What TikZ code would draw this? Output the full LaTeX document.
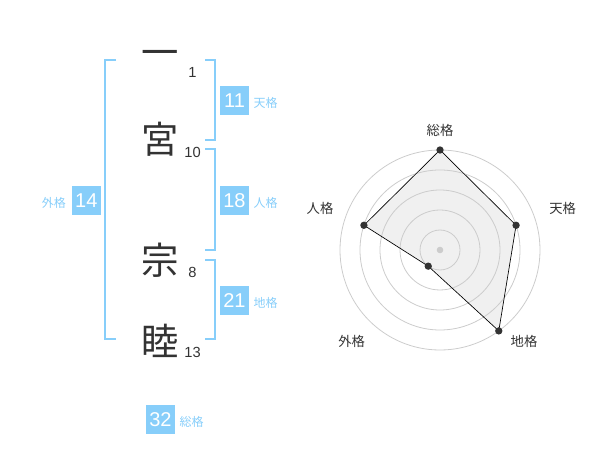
\documentclass[tikz,border=0pt]{standalone}
\usepackage{fontspec}
\setmainfont{Liberation Sans}
\newfontfamily\jpfont{Noto Sans CJK JP}
\usetikzlibrary{positioning}
\definecolor{kakublue}{HTML}{87CEFA}
\definecolor{inkgray}{HTML}{333333}
\definecolor{ringgray}{HTML}{CCCCCC}
\definecolor{areagray}{HTML}{F0F0F0}
\begin{document}
\begin{tikzpicture}[x=0.75pt,y=-0.75pt,
  kanji/.style={font=\jpfont\fontsize{28}{28}\selectfont,text=inkgray,inner sep=0pt},
  strokes/.style={font=\fontsize{11}{11}\selectfont,text=inkgray,inner sep=0pt},
  kakubox/.style={fill=kakublue,text=white,minimum size=21.75pt,inner sep=0pt,font=\fontsize{15}{15}\selectfont},
  kakuname/.style={font=\jpfont\fontsize{9}{9}\selectfont,text=kakublue,inner sep=0pt,yshift=-2.2pt},
  bracket/.style={draw=kakublue,line width=1.5pt},
  ring/.style={draw=ringgray,line width=0.6pt},
  axisname/.style={font=\jpfont\fontsize{10}{10}\selectfont,text=inkgray,inner sep=0pt},
  vertex/.style={circle,fill=inkgray,inner sep=0pt,minimum size=5.5pt}]

    \useasboundingbox (0,0) rectangle (600,470);

    \node[kanji](k1) at (160,58){一};
    \node[kanji](k2) at (160,139){宮};
    \node[kanji](k3) at (160,260){宗};
    \node[kanji](k4) at (160,341){睦};

    \node[strokes](n1) at (192.5,72.7){1};
    \node[strokes](n2) at (192.5,152.7){10};
    \node[strokes](n3) at (192.5,272.7){8};
    \node[strokes](n4) at (192.5,352.7){13};

    \coordinate (gai-a) at (116,60);   \coordinate (gai-b) at (105,60);
    \coordinate (gai-c) at (105,339);  \coordinate (gai-d) at (116,339);
    \coordinate (ten-a) at (205,60);   \coordinate (ten-b) at (215,60);
    \coordinate (ten-c) at (215,140);  \coordinate (ten-d) at (205,140);
    \coordinate (jin-a) at (205,149);  \coordinate (jin-b) at (215,149);
    \coordinate (jin-c) at (215,250);  \coordinate (jin-d) at (205,250);
    \coordinate (chi-a) at (205,260);  \coordinate (chi-b) at (215,260);
    \coordinate (chi-c) at (215,339);  \coordinate (chi-d) at (205,339);

    \draw[bracket](gai-a) -- (gai-b) -- (gai-c) -- (gai-d);
    \draw[bracket](ten-a) -- (ten-b) -- (ten-c) -- (ten-d);
    \draw[bracket](jin-a) -- (jin-b) -- (jin-c) -- (jin-d);
    \draw[bracket](chi-a) -- (chi-b) -- (chi-c) -- (chi-d);

    \node[kakubox](ten) at (234.5,100.5){11};
    \node[kakubox](jin) at (234.5,200.5){18};
    \node[kakubox](chi) at (234.5,300.5){21};
    \node[kakubox](gai) at (86.3,200.5){14};
    \node[kakubox](sou) at (160.5,419.5){32};

    \node[kakuname](ten-l)[right=3pt of ten]{天格};
    \node[kakuname](jin-l)[right=3pt of jin]{人格};
    \node[kakuname](chi-l)[right=3pt of chi]{地格};
    \node[kakuname](gai-l)[left=4pt of gai]{外格};
    \node[kakuname](sou-l)[right=3pt of sou]{総格};

    \begin{scope}[shift={(440,250)}]
        \coordinate (p-sou) at (-90:100);
        \coordinate (p-ten) at (-18:80);
        \coordinate (p-chi) at (54:100);
        \coordinate (p-gai) at (126:20);
        \coordinate (p-jin) at (198:80);

        \fill[areagray](p-sou) -- (p-ten) -- (p-chi) -- (p-gai) -- (p-jin) -- cycle;
        \foreach \r in {20,40,60,80,100}
            \draw[ring](0,0) circle[radius=\r];
        \fill[ringgray](0,0) circle[radius=3.3];
        \draw[black,line width=0.5pt]
            (p-sou) -- (p-ten) -- (p-chi) -- (p-gai) -- (p-jin) -- cycle;
        \foreach \p in {sou,ten,chi,gai,jin}
            \node[vertex](v-\p) at (p-\p){};

        \node[axisname](a-sou) at (0,-119.3){総格};
        \node[axisname](a-ten) at (122.7,-41.3){天格};
        \node[axisname](a-chi) at (84,91.7){地格};
        \node[axisname](a-gai) at (-88.3,91.7){外格};
        \node[axisname](a-jin) at (-120,-41.3){人格};
    \end{scope}
\end{tikzpicture}
\end{document}
